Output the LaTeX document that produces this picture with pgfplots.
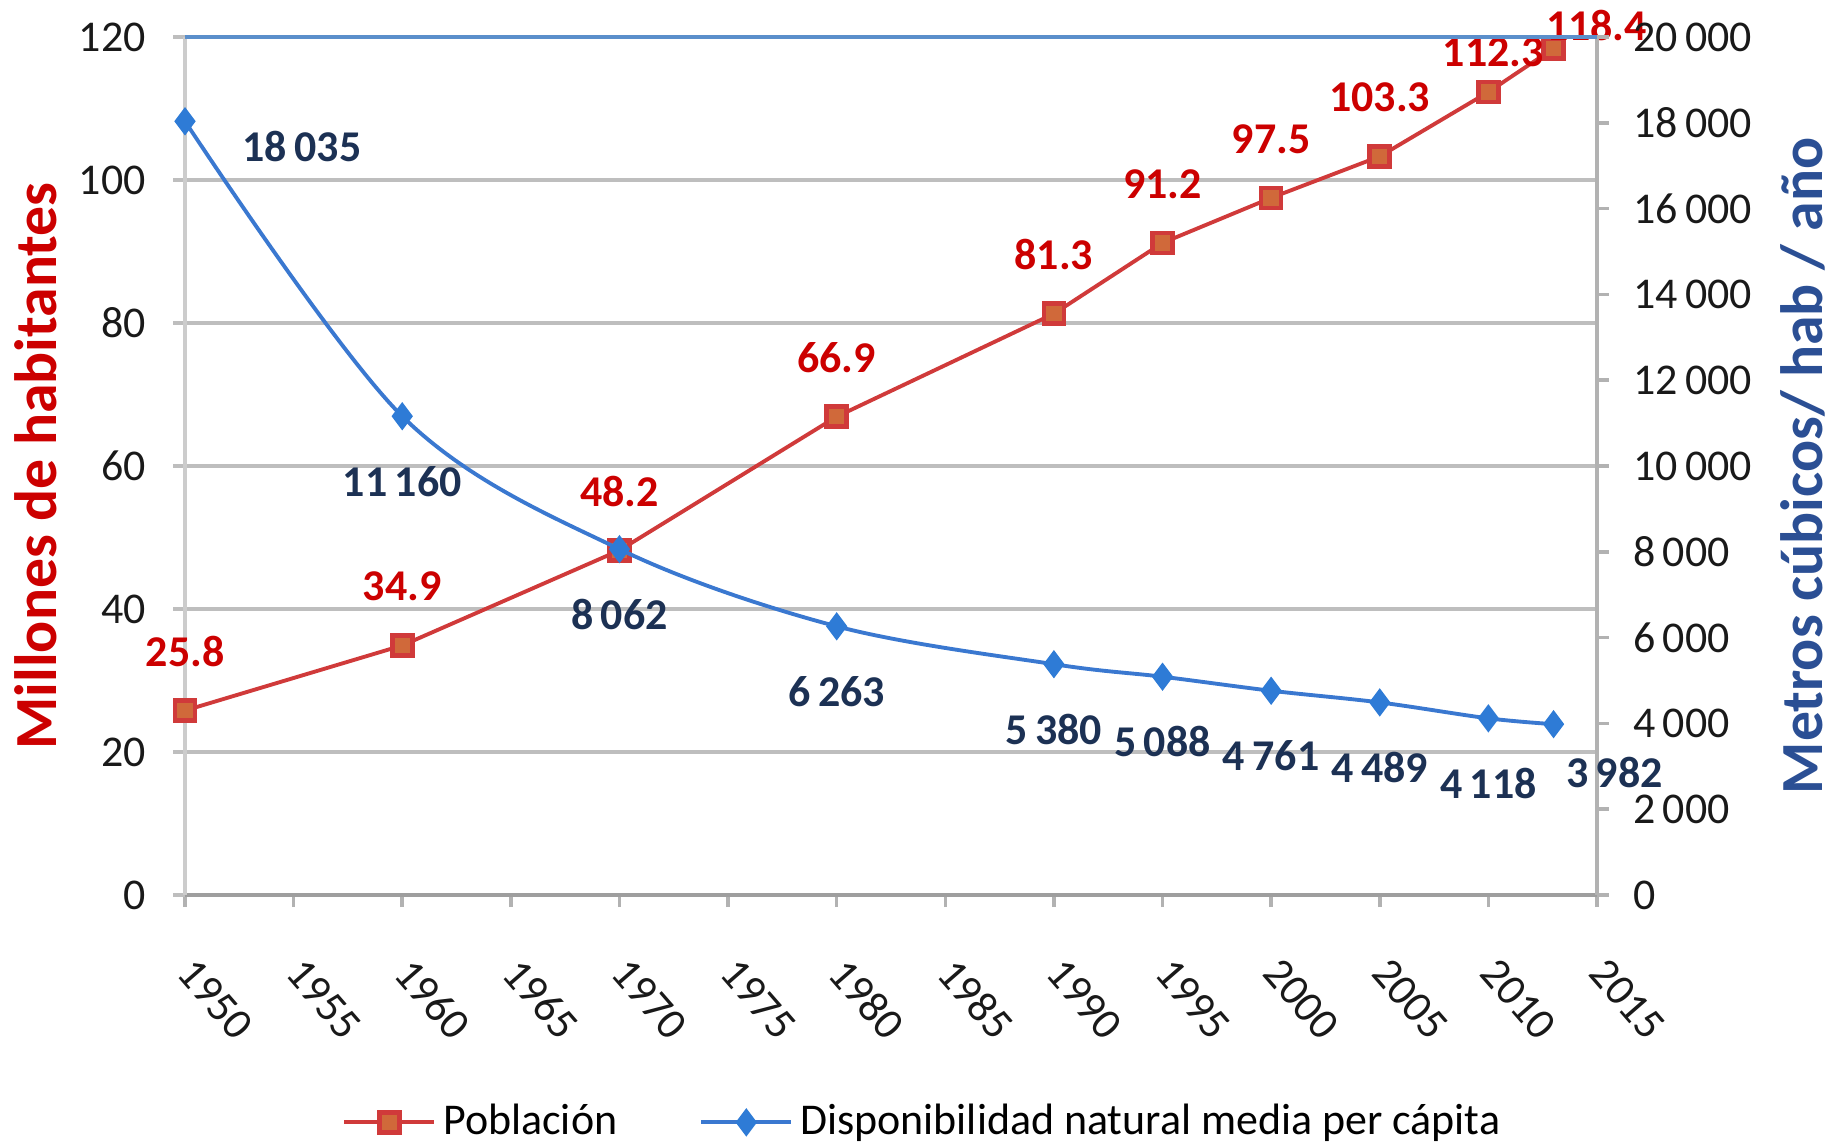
\documentclass[border=0pt]{standalone}
\usepackage{pgfplots}
\pgfplotsset{compat=1.18}
\usepackage{fontspec}
\setmainfont{Carlito}

\definecolor{popred}{HTML}{CC0000}
\definecolor{popline}{HTML}{D03A3A}
\definecolor{popfill}{HTML}{D0693A}
\definecolor{dispblue}{HTML}{3A78D0}
\definecolor{dispmark}{HTML}{2E7BD6}
\definecolor{labnavy}{HTML}{1C3154}
\definecolor{titleblue}{HTML}{2B4F94}
\definecolor{gridgray}{HTML}{BEBEBE}
\definecolor{topblue}{HTML}{5B8FCB}

\begin{document}
\begin{tikzpicture}
\useasboundingbox (-1.85cm,-2.48cm) rectangle (16.48cm,8.95cm);
\pgfkeys{/pgf/number format/assume math mode=true}
\pgfplotsset{
  common/.style={
    scale only axis, width=14.12cm, height=8.58cm,
    xmin=1950, xmax=2015,
    clip=false,
    tick align=outside,
    major tick length=0.12cm,
    ticklabel style={font=\fontsize{12.5}{14}\selectfont, text=black!90},
  },
  poplab/.style={draw=none, mark=none, forget plot,
    nodes near coords, point meta=explicit symbolic,
    every node near coord/.append style={anchor=center,
      font=\bfseries\fontsize{12.5}{14}\selectfont, text=popred, #1}},
  displab/.style={draw=none, mark=none, forget plot,
    nodes near coords, point meta=explicit symbolic,
    every node near coord/.append style={anchor=center,
      font=\bfseries\fontsize{12.5}{14}\selectfont, text=labnavy, #1}},
}
\begin{axis}[common,
  ymin=0, ymax=120,
  xtick={1950,1955,...,2015},
  ytick={0,20,...,120},
  axis x line*=bottom, axis y line*=left,
  axis line style={-},
  x axis line style={draw=black!38, line width=1.4pt},
  y axis line style={draw=black!20, line width=1.4pt},
  xtick style={draw=black!30, line width=1pt},
  ytick style={draw=gridgray, line width=1.1pt},
  ymajorgrids,
  grid style={gridgray, line width=1.1pt},
  xticklabel style={xshift=-0.07cm, yshift=-0.49cm, rotate=-49, anchor=west},
  yticklabel style={xshift=-0.15cm},
  /pgf/number format/1000 sep={},
  ylabel={Millones de habitantes},
  ylabel style={font=\bfseries\fontsize{17}{20}\selectfont, text=popred,
    at={(axis description cs:-0.106,0.5)}, anchor=center, rotate=0},
  legend style={draw=none, at={(axis description cs:0.524,-0.265)}, anchor=center,
    legend columns=2, font=\fontsize{12.5}{14}\selectfont,
    /tikz/every even column/.append style={column sep=0.75cm},
    inner sep=0pt},
  legend image code/.code={
    \draw[mark repeat=2,mark phase=2,#1] plot coordinates {(0cm,0cm)(0.45cm,0cm)(0.9cm,0cm)};},
]
% Poblacion (millones)
\addplot[popline, line width=1.1pt, mark=square*,
  mark options={fill=popfill, draw=popline, line width=1.3pt, mark size=0.1cm}]
  coordinates {(1950,25.8) (1960,34.9) (1970,48.2) (1980,66.9) (1990,81.3)
               (1995,91.2) (2000,97.5) (2005,103.3) (2010,112.3) (2013,118.4)};
\addlegendentry{Población}
\addlegendimage{dispblue, line width=1.1pt, mark=diamond*, mark options={fill=dispmark, draw=dispmark, mark size=0.11cm}}
\addlegendentry{Disponibilidad natural media per cápita}
\addplot[poplab={yshift=0.59cm}] coordinates {
  (1950,25.8)[25.8] (1960,34.9)[34.9] (1970,48.2)[48.2] (1980,66.9)[66.9]
  (1990,81.3)[81.3] (1995,91.2)[91.2] (2000,97.5)[97.5] (2005,103.3)[103.3]};
\addplot[poplab={xshift=0.05cm, yshift=0.40cm}] coordinates {(2010,112.3)[112.3]};
\addplot[poplab={xshift=0.43cm, yshift=0.23cm}] coordinates {(2013,118.4)[118.4]};
\end{axis}

\begin{axis}[common,
  ymin=0, ymax=20000,
  ytick={0,2000,...,20000},
  axis y line*=right, axis x line=none,
  axis line style={-},
  y axis line style={draw=black!30, line width=1.2pt},
  ytick style={draw=black!30, line width=1pt},
  scaled y ticks=false,
  yticklabel style={xshift=0.12cm, /pgf/number format/1000 sep={\,}},
  ylabel={Metros cúbicos/ hab / año},
  ylabel style={font=\bfseries\fontsize{17}{20}\selectfont, text=titleblue,
    at={(axis description cs:1.146,0.5)}, anchor=center, rotate=0},
]
% Disponibilidad natural media per capita (m3/hab/ano)
\addplot[dispblue, line width=1.1pt, smooth, tension=0.55, mark=diamond*,
  mark options={fill=dispmark, draw=dispmark, mark size=0.11cm}, forget plot]
  coordinates {(1950,18035) (1960,11160) (1970,8062) (1980,6263) (1990,5380)
               (1995,5088) (2000,4761) (2005,4489) (2010,4118) (2013,3982)};
\addplot[displab={yshift=-0.65cm}] coordinates {
  (1960,11160)[11\,160] (1970,8062)[8\,062] (1980,6263)[6\,263] (1990,5380)[5\,380]
  (1995,5088)[5\,088] (2000,4761)[4\,761] (2005,4489)[4\,489] (2010,4118)[4\,118]};
\addplot[displab={xshift=1.17cm, yshift=-0.25cm}] coordinates {(1950,18035)[18\,035]};
\addplot[displab={xshift=0.61cm, yshift=-0.48cm}] coordinates {(2013,3982)[3\,982]};
\draw[topblue, line width=1.1pt] (rel axis cs:0,1) -- (rel axis cs:1,1);
\end{axis}
\end{tikzpicture}
\end{document}
